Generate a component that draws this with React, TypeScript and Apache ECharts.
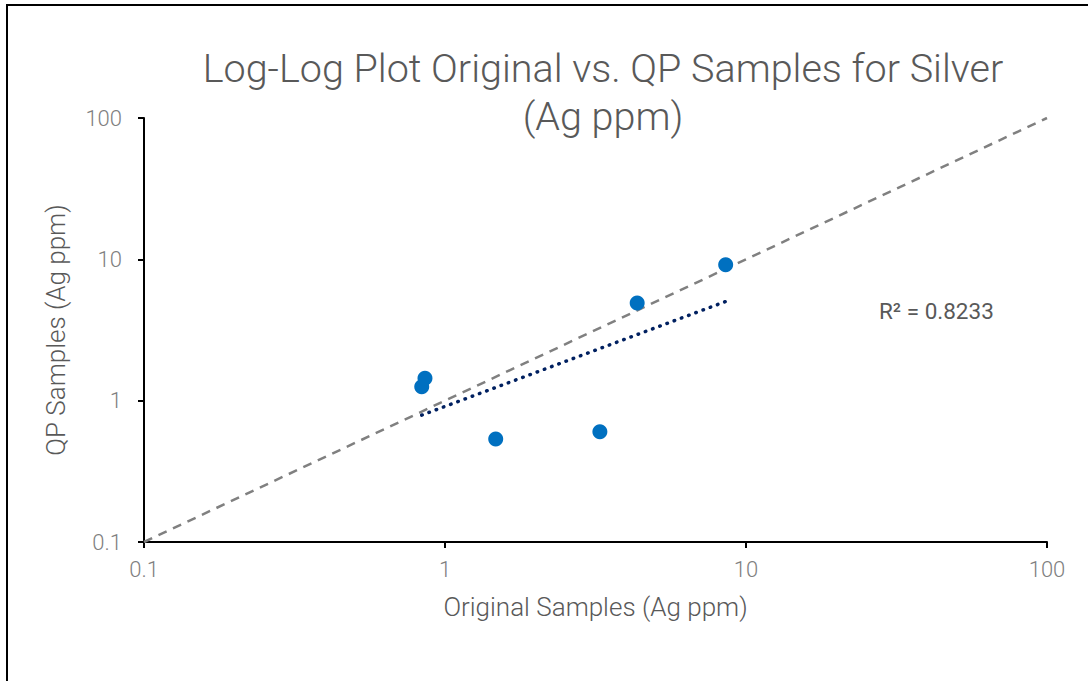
import React, { useEffect, useRef } from "react";
import * as echarts from "echarts";

const originalAg = [0.837, 0.858, 1.474, 3.27, 4.35, 8.56];
const qpAg = [1.256, 1.44, 0.536, 0.603, 4.91, 9.17];
const oneToOneX = [0.1, 100];
const oneToOneY = [0.1, 100];
const trendX = [0.837, 8.56];
const trendY = [0.79, 5.03];
const rSquaredText = "R² = 0.8233";
const titleText = "Log-Log Plot Original vs. QP Samples for Silver\n(Ag ppm)";
const xAxisName = "Original Samples (Ag ppm)";
const yAxisName = "QP Samples (Ag ppm)";

const fmt = (v: number) => String(Number(v.toPrecision(3)));

export default function App() {
  const ref = useRef<HTMLDivElement>(null);
  useEffect(() => {
    if (!ref.current) return;
    const chart = echarts.init(ref.current, null, { renderer: "svg" });
    const font = "Roboto";
    chart.setOption({
      animation: false,
      backgroundColor: "#ffffff",
      textStyle: { fontFamily: font },
      title: {
        text: titleText,
        left: 598,
        top: 39,
        textAlign: "center",
        textStyle: {
          fontFamily: font,
          fontWeight: 300,
          fontSize: 39.5,
          lineHeight: 48,
          color: "#595959",
        },
      },
      grid: {
        left: 144,
        right: 41,
        top: 118,
        bottom: 139,
        containLabel: false,
        outerBoundsMode: "none",
      },
      xAxis: {
        type: "log",
        logBase: 10,
        min: 0.1,
        max: 100,
        name: xAxisName,
        nameLocation: "middle",
        nameGap: 52,
        nameTextStyle: { fontFamily: font, fontWeight: 300, fontSize: 26, color: "#595959" },
        axisLine: { show: true, onZero: false, lineStyle: { color: "#000000", width: 2 } },
        axisTick: { show: true, inside: false, length: 6, lineStyle: { color: "#000000", width: 2 } },
        minorTick: { show: false },
        splitLine: { show: false },
        axisLabel: {
          margin: 16,
          fontFamily: font,
          fontWeight: 300,
          fontSize: 22,
          color: "#808080",
          formatter: (v: number) => fmt(v),
        },
      },
      yAxis: {
        type: "log",
        logBase: 10,
        min: 0.1,
        max: 100,
        name: yAxisName,
        nameLocation: "middle",
        nameGap: 75,
        nameTextStyle: { fontFamily: font, fontWeight: 300, fontSize: 26, color: "#595959" },
        axisLine: { show: true, onZero: false, lineStyle: { color: "#000000", width: 2 } },
        axisTick: { show: true, inside: false, length: 6, lineStyle: { color: "#000000", width: 2 } },
        minorTick: { show: false },
        splitLine: { show: false },
        axisLabel: {
          margin: 22,
          fontFamily: font,
          fontWeight: 300,
          fontSize: 22,
          color: "#808080",
          formatter: (v: number) => fmt(v),
        },
      },
      graphic: [
        {
          type: "line",
          shape: { x1: 7, y1: 4, x2: 7, y2: 681 },
          style: { stroke: "#000000", lineWidth: 2 },
          silent: true,
        },
        {
          type: "line",
          shape: { x1: 6, y1: 5, x2: 1088, y2: 5 },
          style: { stroke: "#000000", lineWidth: 2 },
          silent: true,
        },
        {
          type: "text",
          left: 879,
          top: 299,
          style: {
            text: rSquaredText,
            fontFamily: font,
            fontSize: 22.5,
            fill: "#595959",
          },
        },
      ],
      series: [
        {
          name: "1:1",
          type: "line",
          data: oneToOneX.map((x, i) => [x, oneToOneY[i]]),
          symbol: "none",
          lineStyle: { color: "#808080", width: 2.5, type: [9, 7] },
          z: 2,
        },
        {
          name: "Power trend",
          type: "line",
          data: trendX.map((x, i) => [x, trendY[i]]),
          symbol: "none",
          lineStyle: { color: "#002060", width: 3.5, type: [0.5, 7.2], cap: "round" },
          z: 3,
        },
        {
          name: "Samples",
          type: "scatter",
          data: originalAg.map((x, i) => [x, qpAg[i]]),
          symbol: "circle",
          symbolSize: 15,
          itemStyle: { color: "#0070C0", opacity: 1 },
          z: 4,
        },
      ],
    });
    return () => chart.dispose();
  }, []);
  return (
    <div
      ref={ref}
      style={{ position: "fixed", left: 0, top: 0, width: 1088, height: 681 }}
    />
  );
}
